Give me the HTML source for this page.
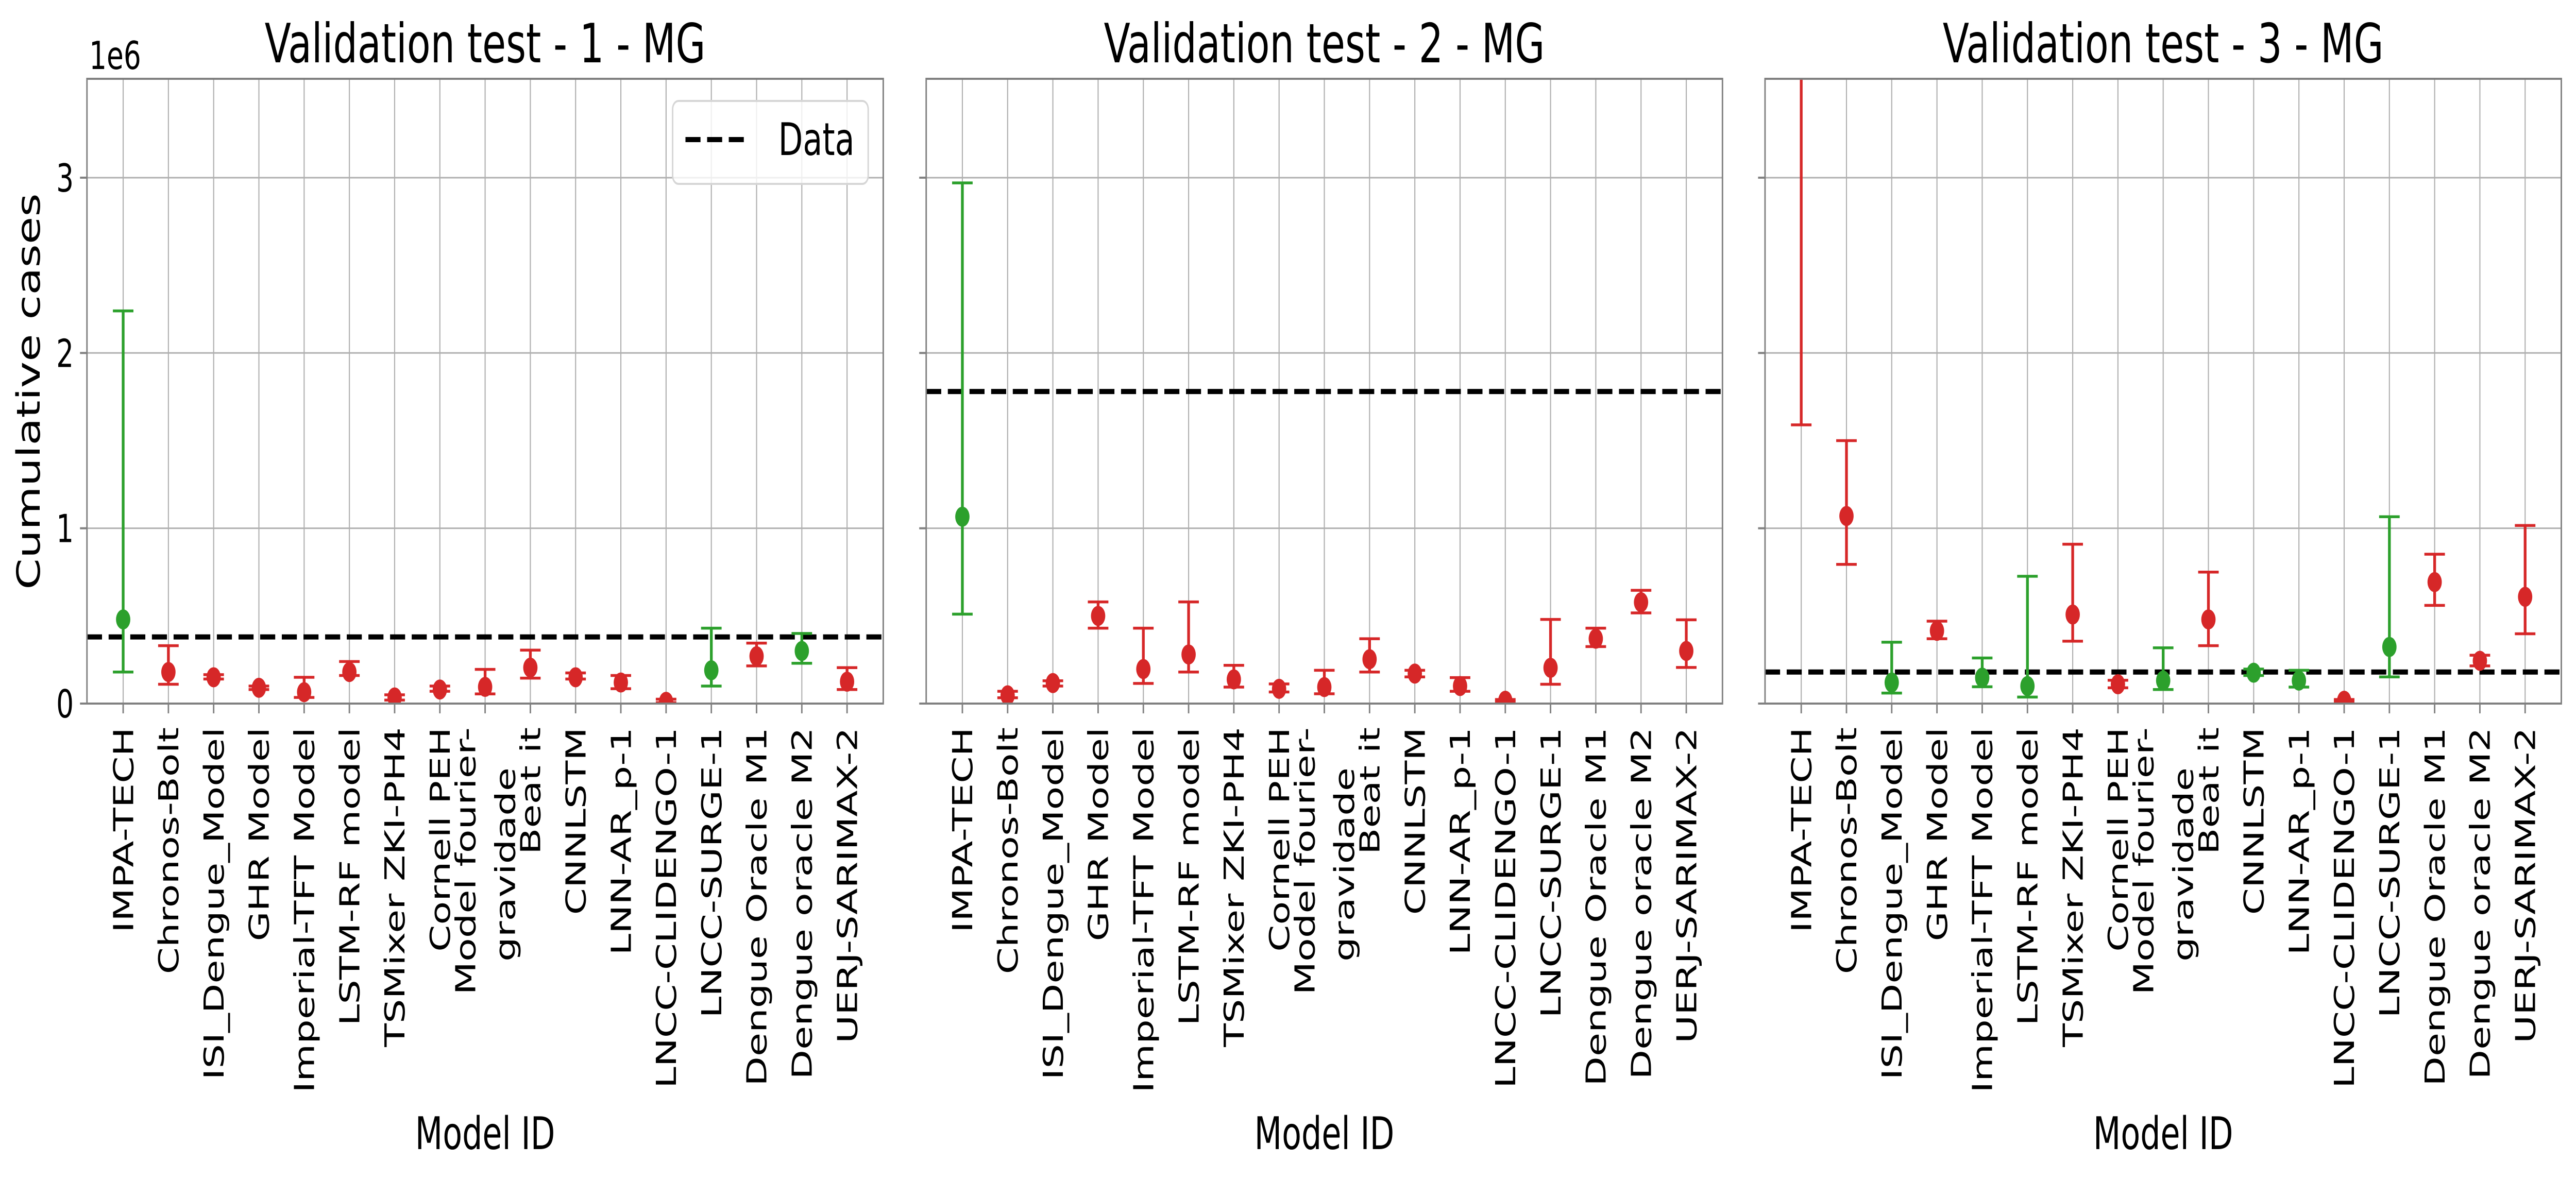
<!DOCTYPE html>
<html><head><meta charset="utf-8"><style>
html,body{margin:0;padding:0;background:#fff;overflow:hidden;width:100%;height:100%;}
svg{display:block;position:absolute;left:0;top:0;width:100vw;height:100vh;font-family:"DejaVu Sans","Liberation Sans",sans-serif;}
</style></head><body>
<svg id="chart" viewBox="0 0 7020 2291" preserveAspectRatio="none" xmlns="http://www.w3.org/2000/svg"></svg>
<script>
const models = ["IMPA-TECH","Chronos-Bolt","ISI_Dengue_Model","GHR Model","Imperial-TFT Model","LSTM-RF model","TSMixer ZKI-PH4","Cornell PEH","Model fourier-\ngravidade","Beat it","CNNLSTM","LNN-AR_p-1","LNCC-CLIDENGO-1","LNCC-SURGE-1","Dengue Oracle M1","Dengue oracle M2","UERJ-SARIMAX-2"];
const titles = ["Validation test - 1 - MG","Validation test - 2 - MG","Validation test - 3 - MG"];
const yTicks = [0,1,2,3];
const yTickLabels = ["0","1","2","3"];
// values in millions of cases
const p1Mid = [0.48,0.18,0.15,0.09,0.065,0.18,0.035,0.08,0.095,0.205,0.15,0.12,0.01,0.19,0.27,0.30,0.125];
const p1Lo  = [0.18,0.11,0.14,0.08,0.035,0.16,0.02,0.07,0.055,0.145,0.14,0.085,0.005,0.10,0.215,0.23,0.08];
const p1Hi  = [2.24,0.33,0.165,0.10,0.15,0.24,0.05,0.10,0.195,0.305,0.175,0.16,0.025,0.43,0.345,0.40,0.205];
const p1Data = 0.38;
const p2Mid = [1.066,0.047,0.117,0.50,0.197,0.28,0.138,0.084,0.094,0.253,0.171,0.10,0.016,0.204,0.37,0.578,0.30];
const p2Lo  = [0.51,0.033,0.10,0.43,0.115,0.18,0.094,0.066,0.056,0.18,0.152,0.07,0.01,0.11,0.325,0.517,0.206];
const p2Hi  = [2.97,0.07,0.13,0.58,0.43,0.58,0.218,0.112,0.19,0.37,0.19,0.148,0.023,0.48,0.43,0.646,0.478];
const p2Data = 1.78;
const p3Mid = [3.9,1.07,0.12,0.415,0.148,0.10,0.508,0.11,0.131,0.48,0.176,0.131,0.016,0.323,0.693,0.244,0.609];
const p3Lo  = [1.59,0.794,0.06,0.37,0.096,0.037,0.356,0.09,0.08,0.33,0.16,0.094,0.01,0.152,0.56,0.215,0.398];
const p3Hi  = [4.6,1.50,0.35,0.47,0.26,0.726,0.909,0.133,0.318,0.75,0.197,0.19,0.023,1.066,0.852,0.276,1.016];
const p3Data = 0.18;

const NS="http://www.w3.org/2000/svg";
const svg=document.getElementById('chart');
function mk(tag,attrs,parent){const e=document.createElementNS(NS,tag);for(const k in attrs)e.setAttribute(k,attrs[k]);(parent||svg).appendChild(e);return e;}

const panels=[{L:237,mid:p1Mid,lo:p1Lo,hi:p1Hi,data:p1Data},{L:2524,mid:p2Mid,lo:p2Lo,hi:p2Hi,data:p2Data},{L:4810,mid:p3Mid,lo:p3Lo,hi:p3Hi,data:p3Data}];
const W=2170, TOP=153, BOT=1366, YMAX=3.564;
const RED="#d62728", GREEN="#2ca02c";

panels.forEach((p,pi)=>{
  const L=p.L, R=L+W;
  const xs=i=>L+(i+0.8)/17.6*W;
  const ys=v=>BOT-v/YMAX*(BOT-TOP);
  const g=mk('g',{});
  
  
  const cp=mk('clipPath',{id:'clip'+pi},g);
  mk('rect',{x:L,y:TOP,width:W,height:BOT-TOP},cp);
  models.forEach((m,i)=>{
    const gl=mk('line',{x1:xs(i),x2:xs(i),y1:TOP,y2:BOT,stroke:'#b0b0b0','stroke-width':3},g);
    
    
  });
  yTicks.forEach((t,k)=>{
    const gl=mk('line',{x1:L,x2:R,y1:ys(t),y2:ys(t),stroke:'#b0b0b0','stroke-width':3},g);
    
    
    const tk=mk('line',{x1:L-19,x2:L,y1:ys(t),y2:ys(t),stroke:'#808080','stroke-width':4},g);
    
    
    if(pi===0){
      const tl=mk('text',{x:201,y:ys(t)+27,'font-size':75,'text-anchor':'end',fill:'#000'},g);
      tl.textContent=yTickLabels[k];
      
      
    }
  });
  const dl=mk('line',{x1:L,x2:R,y1:ys(p.data),y2:ys(p.data),stroke:'#000','stroke-width':10,'stroke-dasharray':'41 18'},g);
  
  
  const eg=mk('g',{'clip-path':'url(#clip'+pi+')'},g);
  models.forEach((m,i)=>{
    const col=(p.lo[i]<=p.data && p.hi[i]>=p.data)?GREEN:RED;
    const x=xs(i);
    const bar=mk('line',{x1:x,x2:x,y1:ys(p.lo[i]),y2:ys(p.hi[i]),stroke:col,'stroke-width':7.5},eg);
    
    
    [p.lo[i],p.hi[i]].forEach(v=>{
      const c=mk('line',{x1:x-28,x2:x+28,y1:ys(v),y2:ys(v),stroke:col,'stroke-width':5.5},eg);
      
      
    });
    const pt=mk('circle',{cx:x,cy:ys(p.mid[i]),r:19.5,fill:col},eg);
    
    
    const tk=mk('line',{x1:x,x2:x,y1:BOT,y2:BOT+19,stroke:'#808080','stroke-width':4},g);
    
    
    const lines=m.split('\n');
    lines.forEach((ln,li)=>{
      let tx=x+27, ty=1412;
      if(lines.length>1){ tx = x+27+(li===0?-54:54); ty = li===0?1412:1490; }
      const t=mk('text',{x:0,y:0,'font-size':75,'text-anchor':'end',transform:'translate('+tx+','+ty+') rotate(-90)',fill:'#000'},g);
      t.textContent=ln;
      
      
    });
  });
  const sp=mk('rect',{x:L,y:TOP,width:W,height:BOT-TOP,fill:'none',stroke:'#808080','stroke-width':4},g);
  
  
  const ti=mk('text',{x:L+W/2,y:121,'font-size':105,'text-anchor':'middle',fill:'#000'},g);
  ti.textContent=titles[pi];
  
  
  const xl=mk('text',{x:L+W/2,y:2231,'font-size':87,'text-anchor':'middle',fill:'#000'},g);
  xl.textContent='Model ID';
  
  
});

const yl=mk('text',{x:0,y:0,'font-size':87,'text-anchor':'middle',transform:'translate(108,760) rotate(-90)',fill:'#000'});
yl.textContent='Cumulative cases';


const off=mk('text',{x:243,y:134,'font-size':75,fill:'#000'});
off.textContent='1e6';



const lg=mk('g',{});


mk('rect',{x:1833,y:196,width:533,height:161,rx:16,fill:'#fff','fill-opacity':0.8,stroke:'#d6d6d6','stroke-width':4},lg);
const ll=mk('line',{x1:1868,x2:2044,y1:271,y2:271,stroke:'#000','stroke-width':10,'stroke-dasharray':'41 18'},lg);


const lt=mk('text',{x:2121,y:301,'font-size':87,fill:'#000'},lg);
lt.textContent='Data';


</script>
</body></html>
